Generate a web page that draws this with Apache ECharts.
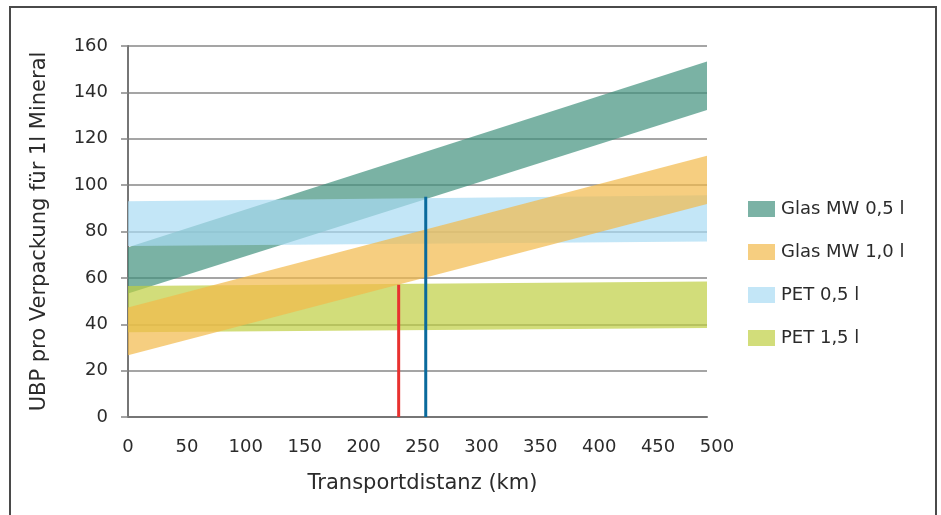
<!DOCTYPE html>
<html>
<head>
<meta charset="utf-8">
<script src="https://cdn.jsdelivr.net/npm/echarts@6/dist/echarts.min.js"></script>
<style>
html,body{margin:0;padding:0;background:#fff;}
#chart{width:941px;height:515px;}
</style>
</head>
<body>
<div id="chart"></div>
<script>
// ---- data ----
const xEnds = [0, 492];               // transport distance at band start / end (km)
const glas05Lower = [53.3, 132.4];
const glas05Upper = [73.2, 153.3];
const glas10Lower = [26.6, 91.9];
const glas10Upper = [47.2, 112.7];
const pet05Lower = [73.7, 75.7];
const pet05Upper = [93.0, 95.6];
const pet15Lower = [36.6, 38.4];
const pet15Upper = [56.5, 58.4];
const redLineX = 230, redLineTop = 57;
const blueLineX = 253, blueLineTop = 95;
const xTicks = [0, 50, 100, 150, 200, 250, 300, 350, 400, 450, 500];
const yTicks = [0, 20, 40, 60, 80, 100, 120, 140, 160];
const legendNames = ['Glas MW 0,5 l', 'Glas MW 1,0 l', 'PET 0,5 l', 'PET 1,5 l'];

const FONT = 'DejaVu Sans';
const TXT = '#2b2b2b';
const GRIDC = '#878787';

function band(name, lo, hi, fill, legendColor) {
  return {
    type: 'custom', name: name, xAxisIndex: 0, yAxisIndex: 0, z: 2,
    itemStyle: { color: legendColor },
    data: xEnds.map((x, i) => [x, lo[i], hi[i]]),
    encode: { x: 0, y: [1, 2] },
    renderItem: function (params, api) {
      if (params.dataIndex !== 0) return null;
      const pts = [];
      for (let i = 0; i < xEnds.length; i++) pts.push(api.coord([xEnds[i], hi[i]]));
      for (let i = xEnds.length - 1; i >= 0; i--) pts.push(api.coord([xEnds[i], lo[i]]));
      return { type: 'polygon', shape: { points: pts }, style: { fill: fill, opacity: 0.7 } };
    }
  };
}

const chart = echarts.init(document.getElementById('chart'), null, { renderer: 'canvas' });
const option = {
  backgroundColor: '#fff',
  animation: false,
  textStyle: { fontFamily: FONT },
  grid: [
    { left: 128, top: 46, width: 579, height: 371 },
    { left: 128, top: 46, width: 589, height: 371 }
  ],
  xAxis: [
    {
      type: 'value', gridIndex: 0, min: xEnds[0], max: xEnds[1],
      axisLine: { show: true, lineStyle: { color: '#767676', width: 2 } },
      axisTick: { show: false }, axisLabel: { show: false }, splitLine: { show: false }
    },
    {
      type: 'value', gridIndex: 1, min: xTicks[0], max: xTicks[xTicks.length - 1], interval: 50,
      axisLine: { show: false }, axisTick: { show: false }, splitLine: { show: false },
      axisLabel: { color: TXT, fontSize: 18, fontFamily: FONT, margin: 21, showMaxLabel: true, showMinLabel: true },
      name: 'Transportdistanz (km)', nameLocation: 'middle', nameGap: 56,
      nameTextStyle: { color: TXT, fontSize: 21, fontFamily: FONT }
    }
  ],
  yAxis: [
    {
      type: 'value', gridIndex: 0, min: yTicks[0], max: yTicks[yTicks.length - 1], interval: 20,
      axisLine: { show: true, lineStyle: { color: '#767676', width: 2 } },
      axisTick: { show: true, length: 7, lineStyle: { color: GRIDC, width: 1.5 } },
      splitLine: { show: true, lineStyle: { color: GRIDC, width: 1.5 } },
      axisLabel: { color: TXT, fontSize: 18, fontFamily: FONT, margin: 20 },
      name: 'UBP pro Verpackung für 1l Mineral', nameLocation: 'middle', nameGap: 78,
      nameTextStyle: { color: TXT, fontSize: 21, fontFamily: FONT }
    },
    {
      type: 'value', gridIndex: 1, min: 0, max: 160, show: false
    }
  ],
  legend: {
    orient: 'vertical', left: 743, top: 195, itemWidth: 27, itemHeight: 16, itemGap: 25,
    icon: 'rect', selectedMode: false,
    textStyle: { color: TXT, fontSize: 18, fontFamily: FONT, lineHeight: 16, padding: [0, 0, 0, 1] },
    data: [
      { name: legendNames[0], itemStyle: { color: '#7bb2a5', opacity: 1 } },
      { name: legendNames[1], itemStyle: { color: '#f6ce80', opacity: 1 } },
      { name: legendNames[2], itemStyle: { color: '#c3e6f7', opacity: 1 } },
      { name: legendNames[3], itemStyle: { color: '#d2dd7a', opacity: 1 } }
    ]
  },
  graphic: [
    {
      type: 'rect', shape: { x: 10, y: 7, width: 926, height: 560 },
      style: { fill: 'none', stroke: '#4a4a4a', lineWidth: 2 }, silent: true, z: 100
    }
  ],
  series: [
    band(legendNames[0], glas05Lower, glas05Upper, '#42917e', '#7bb2a5'),
    band(legendNames[3], pet15Lower, pet15Upper, '#bfce41', '#d2dd7a'),
    band(legendNames[2], pet05Lower, pet05Upper, '#a9dbf4', '#c3e6f7'),
    band(legendNames[1], glas10Lower, glas10Upper, '#f2b94a', '#f6ce80'),
    {
      type: 'line', name: 'red', xAxisIndex: 0, yAxisIndex: 0, symbol: 'none', z: 5,
      data: [[redLineX, 0], [redLineX, redLineTop]],
      lineStyle: { color: '#e8312f', width: 3 }
    },
    {
      type: 'line', name: 'blue', xAxisIndex: 0, yAxisIndex: 0, symbol: 'none', z: 5,
      data: [[blueLineX, 0], [blueLineX, blueLineTop]],
      lineStyle: { color: '#0a6a9c', width: 3 }
    }
  ]
};
chart.setOption(option);
</script>
</body>
</html>
